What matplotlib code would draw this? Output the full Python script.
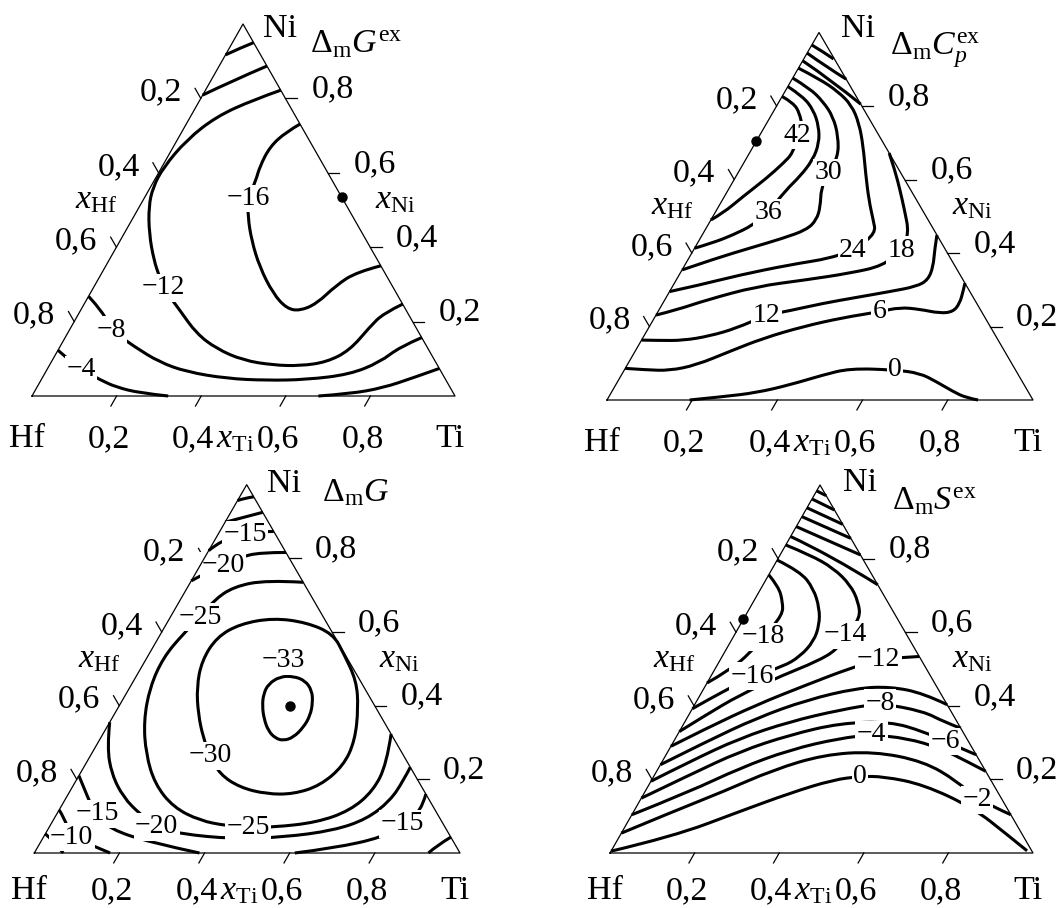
import numpy as np
import matplotlib.pyplot as plt
from matplotlib.transforms import Affine2D
from matplotlib.path import Path
from matplotlib.patches import PathPatch

plt.rcParams['font.family'] = ['Liberation Serif', 'DejaVu Serif']
plt.rcParams['mathtext.fontset'] = 'custom'
plt.rcParams['mathtext.rm'] = 'Liberation Serif'
plt.rcParams['mathtext.it'] = 'Liberation Serif:italic'

M = '\u2212'

# isolines as (level, [(x_Ti, x_Ni), ...])
gex_lines = [
    (-4, [(0.000, 0.917), (0.025, 0.935), (0.050, 0.950)]),
    (-8, [(0.000, 0.809), (0.052, 0.848), (0.113, 0.887)]),
    (-12, [(0.178, 0.822), (0.126, 0.796), (0.061, 0.751), (0.022, 0.688), (0.004, 0.614),
           (0.006, 0.561), (0.022, 0.509), (0.059, 0.437), (0.106, 0.365), (0.142, 0.320),
           (0.165, 0.291), (0.235, 0.230), (0.305, 0.168), (0.373, 0.127), (0.451, 0.096),
           (0.529, 0.083), (0.593, 0.081), (0.651, 0.091), (0.690, 0.123), (0.706, 0.186),
           (0.720, 0.222), (0.753, 0.247)]),
    (-16, [(0.269, 0.731), (0.247, 0.710), (0.228, 0.670), (0.231, 0.616), (0.240, 0.580),
           (0.246, 0.531), (0.270, 0.482), (0.310, 0.419), (0.365, 0.347), (0.433, 0.275),
           (0.485, 0.235), (0.519, 0.229), (0.549, 0.248), (0.571, 0.298), (0.601, 0.333),
           (0.650, 0.350)]),
    (-8, [(0.000, 0.268), (0.055, 0.226), (0.099, 0.177), (0.177, 0.132), (0.256, 0.091),
          (0.333, 0.065), (0.437, 0.047), (0.533, 0.042), (0.627, 0.044), (0.722, 0.058),
          (0.777, 0.091), (0.804, 0.132), (0.843, 0.157)]),
    (-4, [(0.000, 0.123), (0.024, 0.107), (0.081, 0.071), (0.143, 0.042), (0.187, 0.024),
          (0.251, 0.008), (0.322, 0.000)]),
    (-4, [(0.677, 0.000), (0.749, 0.006), (0.819, 0.022), (0.877, 0.049), (0.926, 0.074)]),
]
gex_labels = [(-4, 0.081, 0.071), (-8, 0.099, 0.177), (-12, 0.165, 0.291), (-16, 0.246, 0.531)]
gex_dot = (0.466, 0.534)

cp_lines = [
    (6, [(0.000, 0.966), (0.035, 0.948), (0.070, 0.928)]),
    (12, [(0.000, 0.944), (0.063, 0.907), (0.127, 0.873)]),
    (18, [(0.000, 0.923), (0.099, 0.867), (0.195, 0.805)]),
    (24, [(0.000, 0.903), (0.065, 0.873), (0.125, 0.839), (0.174, 0.803), (0.217, 0.753),
          (0.258, 0.690), (0.300, 0.617), (0.344, 0.544), (0.381, 0.490), (0.405, 0.454),
          (0.380, 0.413), (0.335, 0.386), (0.246, 0.368), (0.142, 0.340), (0.062, 0.313),
          (0.000, 0.295)]),
    (30, [(0.000, 0.876), (0.054, 0.848), (0.103, 0.812), (0.147, 0.771), (0.186, 0.717),
          (0.213, 0.662), (0.211, 0.619), (0.216, 0.576), (0.239, 0.526), (0.248, 0.490),
          (0.238, 0.463), (0.194, 0.440), (0.129, 0.413), (0.065, 0.386), (0.000, 0.354)]),
    (36, [(0.000, 0.853), (0.049, 0.826), (0.092, 0.789), (0.127, 0.744), (0.150, 0.699),
          (0.158, 0.653), (0.150, 0.608), (0.136, 0.572), (0.124, 0.510), (0.106, 0.476),
          (0.072, 0.449), (0.036, 0.428), (0.000, 0.413)]),
    (42, [(0.000, 0.826), (0.036, 0.808), (0.064, 0.780), (0.088, 0.744), (0.089, 0.721),
          (0.102, 0.672), (0.093, 0.644), (0.074, 0.603), (0.044, 0.554), (0.019, 0.508),
          (0.000, 0.490)]),
    (18, [(0.328, 0.672), (0.364, 0.626), (0.403, 0.572), (0.441, 0.517), (0.483, 0.454),
          (0.488, 0.408), (0.466, 0.365), (0.398, 0.345), (0.305, 0.327), (0.197, 0.309),
          (0.098, 0.272), (0.041, 0.245), (0.000, 0.231)]),
    (12, [(0.000, 0.163), (0.043, 0.162), (0.098, 0.162), (0.154, 0.174), (0.206, 0.195),
          (0.259, 0.231), (0.308, 0.243), (0.376, 0.263), (0.446, 0.279), (0.517, 0.295),
          (0.573, 0.309), (0.591, 0.327), (0.585, 0.363), (0.566, 0.408), (0.551, 0.449)]),
    (6, [(0.000, 0.086), (0.052, 0.082), (0.107, 0.080), (0.162, 0.095), (0.222, 0.132),
         (0.283, 0.168), (0.361, 0.200), (0.442, 0.224), (0.520, 0.240), (0.562, 0.252),
         (0.611, 0.247), (0.664, 0.236), (0.693, 0.240), (0.697, 0.263), (0.689, 0.295),
         (0.682, 0.318)]),
    (0, [(0.194, 0.000), (0.268, 0.009), (0.341, 0.020), (0.408, 0.041), (0.473, 0.068),
         (0.527, 0.086), (0.635, 0.082), (0.698, 0.073), (0.748, 0.050), (0.801, 0.023),
         (0.840, 0.006), (0.871, 0.000)]),
]
cp_labels = [(42, 0.089, 0.721), (36, 0.124, 0.510), (30, 0.211, 0.619), (24, 0.374, 0.408),
             (18, 0.488, 0.408), (12, 0.259, 0.231), (6, 0.520, 0.240), (0, 0.635, 0.082)]
cp_dot = (0.000, 0.705)

g_lines = [
    (-5, [(0.000, 0.957), (0.014, 0.964), (0.033, 0.967)]),
    (-10, [(0.000, 0.898), (0.036, 0.911), (0.075, 0.925)]),
    (-15, [(0.000, 0.821), (0.016, 0.850), (0.064, 0.864), (0.102, 0.873), (0.127, 0.873)]),
    (-20, [(0.184, 0.816), (0.123, 0.816), (0.083, 0.803), (0.055, 0.780), (0.019, 0.757),
           (0.000, 0.739)]),
    (-25, [(0.265, 0.735), (0.176, 0.741), (0.107, 0.723), (0.079, 0.685), (0.070, 0.640),
           (0.053, 0.595), (0.038, 0.531), (0.047, 0.450), (0.078, 0.359), (0.128, 0.269),
           (0.190, 0.187), (0.265, 0.124), (0.345, 0.088), (0.415, 0.074), (0.468, 0.070),
           (0.527, 0.070), (0.622, 0.083), (0.684, 0.115), (0.712, 0.169), (0.707, 0.242),
           (0.677, 0.323)]),
    (-30, [(0.405, 0.595), (0.327, 0.626), (0.243, 0.638), (0.173, 0.622), (0.136, 0.586),
           (0.133, 0.522), (0.157, 0.450), (0.197, 0.377), (0.240, 0.314), (0.281, 0.264),
           (0.329, 0.214), (0.394, 0.178), (0.466, 0.160), (0.529, 0.160), (0.580, 0.183),
           (0.608, 0.237), (0.601, 0.305), (0.564, 0.395), (0.523, 0.468), (0.458, 0.540),
           (0.405, 0.595)]),
    (-33, [(0.338, 0.479), (0.369, 0.480), (0.403, 0.468), (0.432, 0.441), (0.450, 0.409),
           (0.462, 0.373), (0.462, 0.341), (0.452, 0.314), (0.433, 0.305), (0.410, 0.312),
           (0.384, 0.332), (0.358, 0.364), (0.336, 0.400), (0.323, 0.432), (0.321, 0.459),
           (0.338, 0.479)]),
    (-20, [(0.000, 0.355), (0.028, 0.287), (0.075, 0.214), (0.134, 0.151), (0.195, 0.106),
           (0.252, 0.071), (0.316, 0.052), (0.449, 0.038), (0.564, 0.043), (0.672, 0.061),
           (0.735, 0.092), (0.765, 0.142), (0.769, 0.196), (0.767, 0.233)]),
    (-15, [(0.000, 0.210), (0.035, 0.169), (0.066, 0.133), (0.094, 0.106), (0.145, 0.065),
           (0.257, 0.029), (0.388, 0.000)]),
    (-15, [(0.840, 0.160), (0.853, 0.110), (0.824, 0.079), (0.799, 0.043), (0.696, 0.013),
           (0.612, 0.000)]),
    (-10, [(0.000, 0.117), (0.021, 0.097), (0.066, 0.043), (0.120, 0.023), (0.178, 0.000)]),
    (-5, [(0.000, 0.052), (0.028, 0.033), (0.068, 0.000)]),
    (-5, [(0.957, 0.043), (0.935, 0.020), (0.926, 0.000)]),
]
g_labels = [(-15, 0.064, 0.864), (-20, 0.055, 0.780), (-25, 0.070, 0.640), (-33, 0.325, 0.522),
            (-30, 0.281, 0.264), (-25, 0.468, 0.070), (-20, 0.252, 0.071), (-15, 0.094, 0.106),
            (-10, 0.066, 0.043), (-15, 0.824, 0.079)]
g_dot = (0.401, 0.400)

sex_lines = [
    (-2, [(0.000, 0.984), (0.029, 0.971)]),
    (-4, [(0.000, 0.962), (0.068, 0.932)]),
    (-6, [(0.000, 0.938), (0.107, 0.893)]),
    (-8, [(0.000, 0.914), (0.145, 0.855)]),
    (-10, [(0.000, 0.887), (0.190, 0.810)]),
    (-12, [(0.000, 0.860), (0.118, 0.810), (0.271, 0.729)]),
    (-14, [(0.000, 0.837), (0.071, 0.810), (0.144, 0.774), (0.206, 0.729), (0.248, 0.683),
           (0.275, 0.638), (0.262, 0.593), (0.262, 0.552), (0.230, 0.520), (0.170, 0.484),
           (0.094, 0.430), (0.037, 0.371), (0.000, 0.330)]),
    (-16, [(0.000, 0.796), (0.070, 0.765), (0.124, 0.719), (0.165, 0.665), (0.187, 0.620),
           (0.196, 0.575), (0.184, 0.534), (0.158, 0.507), (0.097, 0.480), (0.061, 0.448),
           (0.028, 0.419), (0.000, 0.392)]),
    (-18, [(0.000, 0.756), (0.039, 0.724), (0.069, 0.683), (0.087, 0.647), (0.071, 0.588),
           (0.061, 0.543), (0.037, 0.498), (0.000, 0.462)]),
    (-12, [(0.000, 0.290), (0.060, 0.339), (0.147, 0.403), (0.238, 0.457), (0.318, 0.502),
           (0.374, 0.525), (0.422, 0.531), (0.466, 0.534)]),
    (-10, [(0.000, 0.240), (0.078, 0.303), (0.165, 0.367), (0.259, 0.416), (0.361, 0.448),
           (0.438, 0.452), (0.526, 0.434), (0.597, 0.403)]),
    (-8, [(0.000, 0.195), (0.066, 0.249), (0.152, 0.312), (0.248, 0.357), (0.351, 0.389),
          (0.437, 0.407), (0.550, 0.385), (0.611, 0.357), (0.661, 0.339)]),
    (-6, [(0.000, 0.149), (0.084, 0.213), (0.170, 0.276), (0.266, 0.321), (0.369, 0.353),
          (0.485, 0.357), (0.577, 0.330), (0.642, 0.303), (0.733, 0.267)]),
    (-4, [(0.000, 0.104), (0.106, 0.167), (0.193, 0.231), (0.287, 0.281), (0.389, 0.312),
          (0.459, 0.321), (0.547, 0.312), (0.639, 0.285), (0.720, 0.249), (0.778, 0.222)]),
    (-2, [(0.000, 0.054), (0.094, 0.113), (0.185, 0.167), (0.274, 0.226), (0.372, 0.267),
          (0.486, 0.276), (0.618, 0.249), (0.724, 0.195), (0.796, 0.145), (0.896, 0.104)]),
    (0, [(0.000, 0.005), (0.127, 0.045), (0.251, 0.113), (0.345, 0.163), (0.429, 0.199),
         (0.488, 0.208), (0.543, 0.208), (0.649, 0.186), (0.799, 0.122), (0.914, 0.050),
         (0.983, 0.006)]),
]
sex_labels = [(-18, 0.071, 0.588), (-16, 0.097, 0.480), (-14, 0.262, 0.593), (-12, 0.374, 0.525),
              (-8, 0.437, 0.407), (-6, 0.642, 0.303), (-4, 0.459, 0.321), (-2, 0.796, 0.145),
              (0, 0.488, 0.208)]
sex_dot = (0.000, 0.635)

ticks = [0.2, 0.4, 0.6, 0.8]
tick_text = ['0,2', '0,4', '0,6', '0,8']

fig = plt.figure(figsize=(10.61, 9.08), dpi=100)
ax = fig.add_axes([0, 0, 1, 1])
ax.set_xlim(0, 1061)
ax.set_ylim(908, 0)
ax.axis('off')

FS = 24.5
LFS = 20


def fmt(v):
    return (M + str(-v)) if v < 0 else str(v)


def smooth(pts):
    # quadratic Bezier through the midpoints, the traced points act as control points
    p = np.asarray(pts, float)
    if len(p) < 3:
        return Path(p, [Path.MOVETO] + [Path.LINETO] * (len(p) - 1))
    closed = np.allclose(p[0], p[-1])
    if closed:
        q = p[:-1]
        n = len(q)
        verts = [(q[-1] + q[0]) / 2]
        codes = [Path.MOVETO]
        for i in range(n):
            verts += [q[i], (q[i] + q[(i + 1) % n]) / 2]
            codes += [Path.CURVE3, Path.CURVE3]
        return Path(verts, codes)
    verts = [p[0]]
    codes = [Path.MOVETO]
    for i in range(1, len(p) - 1):
        end = p[-1] if i == len(p) - 2 else (p[i] + p[i + 1]) / 2
        verts += [p[i], end]
        codes += [Path.CURVE3, Path.CURVE3]
    return Path(verts, codes)


def ternary(hf, ti, ni, lines, labels, dot, title, title_xy, ni_xy, lab_dy):
    hf, ti, ni = np.array(hf, float), np.array(ti, float), np.array(ni, float)
    aff = Affine2D(np.array([[ti[0] - hf[0], ni[0] - hf[0], hf[0]],
                             [ti[1] - hf[1], ni[1] - hf[1], hf[1]],
                             [0, 0, 1]]))
    tr = aff + ax.transData

    # frame and ticks
    ax.plot([0, 1, 0, 0], [0, 0, 1, 0], transform=tr, color='black', lw=0.9, zorder=4)
    L = 0.027
    for v, s in zip(ticks, tick_text):
        ax.plot([v, v], [0, -L], transform=tr, color='black', lw=0.9)
        ax.plot([1 - v, 1 - v + L], [v, v], transform=tr, color='black', lw=0.9)
        ax.plot([0, -L], [1 - v, 1 - v + L], transform=tr, color='black', lw=0.9)
        x, y = aff.transform((v, 0))
        ax.text(x - 8, y + lab_dy, s, fontsize=FS, ha='center', va='baseline')
        x, y = aff.transform((1 - v, v))
        ax.text(x + 47, y - 1, s, fontsize=FS, ha='center', va='baseline')
        x, y = aff.transform((0, 1 - v))
        ax.text(x - 40, y + 2, s, fontsize=FS, ha='center', va='baseline')

    x, y = aff.transform((0.5, 0))
    ax.text(x - 8, y + lab_dy, r'$x_{\mathrm{Ti}}$', fontsize=FS, ha='center', va='baseline')
    x, y = aff.transform((0.5, 0.5))
    ax.text(x + 46, y - 2, r'$x_{\mathrm{Ni}}$', fontsize=FS, ha='center', va='baseline')
    x, y = aff.transform((0, 0.5))
    ax.text(x - 41, y - 2, r'$x_{\mathrm{Hf}}$', fontsize=FS, ha='center', va='baseline')

    ax.text(hf[0] - 5, hf[1] + lab_dy, 'Hf', fontsize=FS, ha='center', va='baseline')
    ax.text(ti[0] - 5, ti[1] + lab_dy, 'Ti', fontsize=FS, ha='center', va='baseline')
    ax.text(ni_xy[0], ni_xy[1], 'Ni', fontsize=FS, ha='center', va='baseline')
    ax.text(title_xy[0], title_xy[1], title, fontsize=FS, ha='left', va='baseline')

    for level, pts in lines:
        ax.add_patch(PathPatch(smooth(pts), transform=tr, fill=False, ec='black', lw=2.2,
                               joinstyle='round', capstyle='butt', zorder=2))
    for level, xt, xn in labels:
        ax.text(xt, xn, fmt(level), transform=tr, fontsize=LFS, ha='center', va='center',
                bbox=dict(boxstyle='square,pad=0.05', fc='white', ec='none'), zorder=3)
    ax.plot([dot[0]], [dot[1]], 'o', ms=6.5, color='black', transform=tr, zorder=5)


ternary((32, 396), (455, 396), (243, 24), gex_lines, gex_labels, gex_dot,
        r'$\Delta_{\mathrm{m}}G^{\mathrm{ex}}$', (310, 53), (280, 36.7), 51)
ternary((607, 400), (1033, 400), (819, 32.5), cp_lines, cp_labels, cp_dot,
        r'$\Delta_{\mathrm{m}}C_p^{\mathrm{ex}}$', (890, 55), (858, 37), 51)
ternary((34.3, 853), (460, 853), (246.7, 484.7), g_lines, g_labels, g_dot,
        r'$\Delta_{\mathrm{m}}G$', (322, 501), (284, 492), 46)
ternary((610, 853), (1033, 853), (820, 485), sex_lines, sex_labels, sex_dot,
        r'$\Delta_{\mathrm{m}}S^{\mathrm{ex}}$', (892, 510), (860, 491), 46)

fig.savefig('out.png', dpi=100, facecolor='white')
